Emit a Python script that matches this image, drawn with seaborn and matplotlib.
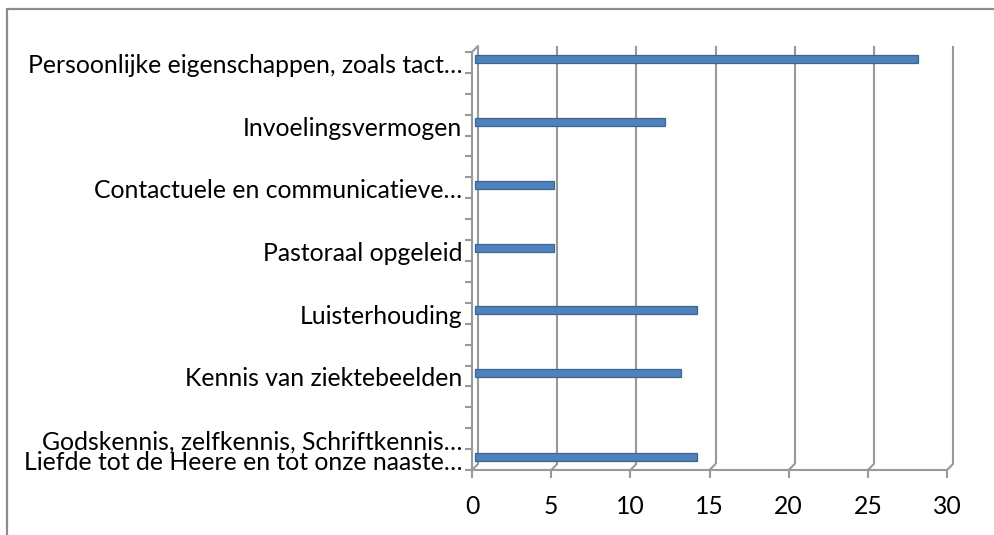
import numpy as np
import pandas as pd
import matplotlib.pyplot as plt
import matplotlib.transforms as mtransforms
from matplotlib.lines import Line2D
import seaborn as sns

# rows from bottom to top (the sheet skips labels, so most rows are blank)
labels = [
    "Liefde tot de Heere en tot onze naaste…",
    "Godskennis, zelfkennis, Schriftkennis…",
    "", "",
    "Kennis van ziektebeelden",
    "", "",
    "Luisterhouding",
    "", "",
    "Pastoraal opgeleid",
    "", "",
    "Contactuele en communicatieve…",
    "", "",
    "Invoelingsvermogen",
    "", "",
    "Persoonlijke eigenschappen, zoals tact…",
]
counts = [14, None, None, None, 13, None, None, 14, None, None,
          5, None, None, 5, None, None, 12, None, None, 28]
x_ticks = [0, 5, 10, 15, 20, 25, 30]

sns.set_style("white")
plt.rcParams["font.family"] = ["Lato", "DejaVu Sans"]

grid_col = "#999999"
bar_col = "#4F81BD"

W, H = 994, 535
fig = plt.figure(figsize=(W / 100, H / 100), dpi=100)
ax = fig.add_axes([472 / W, 1 - 470 / H, (947 - 472) / W, (470 - 52) / H])

keys = [f"r{i}" for i in range(len(labels))]
df = pd.DataFrame({"key": keys, "count": counts}).dropna()

sns.barplot(data=df, x="count", y="key", order=keys[::-1], orient="h",
            width=0.38, color=bar_col, saturation=1, edgecolor="#3A6595",
            linewidth=0.9, ax=ax, zorder=3)

n = len(labels)
ax.set_xlim(0, 30)
ax.set_ylim(n - 0.5, -0.5)
ax.set_xlabel("")
ax.set_ylabel("")

# 3D depth offset (back wall sits a few pixels up and right)
depth = 6
back = mtransforms.offset_copy(ax.transData, fig=fig, x=depth, y=depth, units="dots")
mid = mtransforms.offset_copy(ax.transData, fig=fig, x=depth / 2, y=depth / 2, units="dots")
for p in ax.patches:
    p.set_transform(mid)

ax.vlines(x_ticks, n - 0.5, -0.5, transform=back, color=grid_col, lw=1.5,
          zorder=1, clip_on=False)

# floor/wall slants
dx = depth * 30 / (ax.get_position().width * W)
dy = depth * n / (ax.get_position().height * H)
for xv in x_ticks:
    ax.add_line(Line2D([xv, xv + dx], [n - 0.5, n - 0.5 - dy], color=grid_col,
                       lw=1.5, clip_on=False, zorder=1))
ax.add_line(Line2D([0, dx], [-0.5, -0.5 - dy], color=grid_col, lw=1.5,
                   clip_on=False, zorder=1))

for side in ["top", "right"]:
    ax.spines[side].set_visible(False)
for side in ["left", "bottom"]:
    ax.spines[side].set_color(grid_col)
    ax.spines[side].set_linewidth(1.5)

fs = 17.8
ax.set_xticks(x_ticks)
ax.set_xticklabels([str(v) for v in x_ticks])
ax.tick_params(axis="x", direction="out", length=6, width=1.5, color=grid_col,
               pad=12, labelsize=fs, labelcolor="black", bottom=True)

ax.set_yticks(range(n))
ax.set_yticklabels(labels[::-1])
ax.tick_params(axis="y", which="major", length=0, pad=7, labelsize=fs,
               labelcolor="black")
ax.set_yticks(np.arange(-0.5, n, 1), minor=True)
ax.tick_params(axis="y", which="minor", direction="out", length=5, width=1.5,
               color=grid_col, left=True)
shift = mtransforms.ScaledTranslation(0, -3 / 100, fig.dpi_scale_trans)
for t in ax.get_yticklabels():
    t.set_verticalalignment("center")
    t.set_transform(t.get_transform() + shift)

# outer chart-area frame (only top and left edges inside the crop)
fig.add_artist(Line2D([7 / W, 1], [1 - 9 / H, 1 - 9 / H], color="#8c8c8c",
                      lw=1.6, transform=fig.transFigure))
fig.add_artist(Line2D([7 / W, 7 / W], [0, 1 - 9 / H], color="#8c8c8c",
                      lw=1.6, transform=fig.transFigure))

fig.savefig("out.png", dpi=100)
